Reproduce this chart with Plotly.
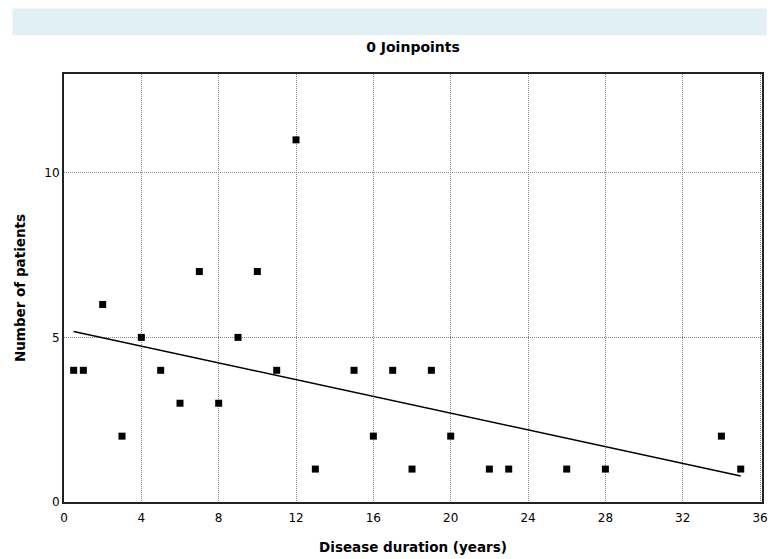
import plotly.graph_objects as go

# Observed data
duration = [0.5, 1, 2, 3, 4, 5, 6, 7, 8, 9, 10, 11, 12, 13, 15, 16, 17, 18, 19, 20, 22, 23, 26, 28, 34, 35]
patients = [4, 4, 6, 2, 5, 4, 3, 7, 3, 5, 7, 4, 11, 1, 4, 2, 4, 1, 4, 2, 1, 1, 1, 1, 2, 1]

# Fitted (0 joinpoint) line endpoints
fit_x = [0.5, 35]
fit_y = [5.18, 0.79]

x_ticks = [0, 4, 8, 12, 16, 20, 24, 28, 32, 36]
y_ticks = [0, 5, 10]

fig = go.Figure()
fig.add_trace(go.Scatter(
    x=fit_x, y=fit_y, mode="lines",
    line=dict(color="black", width=1.5),
    showlegend=False, hoverinfo="skip",
))
fig.add_trace(go.Scatter(
    x=duration, y=patients, mode="markers",
    marker=dict(symbol="square", size=7, color="black"),
    showlegend=False,
))

axis_font = dict(family="DejaVu Sans", size=12, color="black")
title_font = dict(family="DejaVu Sans", size=13.5, color="black")

W, H = 774, 559
ML, MT, MR, MB = 64, 74, 6, 54
PW = W - ML - MR
PH = H - MT - MB

fig.update_layout(
    width=W, height=H,
    margin=dict(l=ML, r=MR, t=MT, b=MB),
    paper_bgcolor="white", plot_bgcolor="white",
    title=dict(text="<b>0 Joinpoints</b>", x=0.5, xref="paper", xanchor="center",
               y=1 - 47 / H, yref="container", yanchor="middle",
               font=dict(family="DejaVu Sans", size=14, color="black")),
    xaxis=dict(
        range=[0, 36.1], tickvals=x_ticks, ticktext=[str(v) for v in x_ticks],
        showgrid=True, gridcolor="#888888", griddash="1px,1px", gridwidth=1,
        zeroline=False, showline=True, linecolor="#222222", linewidth=2, mirror=True,
        ticks="", tickfont=axis_font, ticklabelstandoff=4,
        title=dict(text="<b>Disease duration (years)</b>", font=title_font, standoff=18),
    ),
    yaxis=dict(
        range=[0, 13], tickvals=y_ticks, ticktext=[str(v) for v in y_ticks],
        showgrid=True, gridcolor="#888888", griddash="1px,1px", gridwidth=1,
        zeroline=False, showline=True, linecolor="#222222", linewidth=2, mirror=True,
        ticks="", tickfont=axis_font,
        title=dict(text="<b>Number of patients</b>", font=title_font, standoff=16),
    ),
    shapes=[dict(
        type="rect", xref="paper", yref="paper",
        x0=(12 - ML) / PW, x1=(772.7 - ML) / PW,
        y0=(H - MB - 35) / PH, y1=(H - MB - 8) / PH,
        fillcolor="#e1f0f5", line=dict(width=0), layer="below",
    )],
)

fig.write_html(
    "out.html",
    config={"displayModeBar": False},
    post_script="document.body.style.margin='0';document.body.style.overflow='hidden';",
)
